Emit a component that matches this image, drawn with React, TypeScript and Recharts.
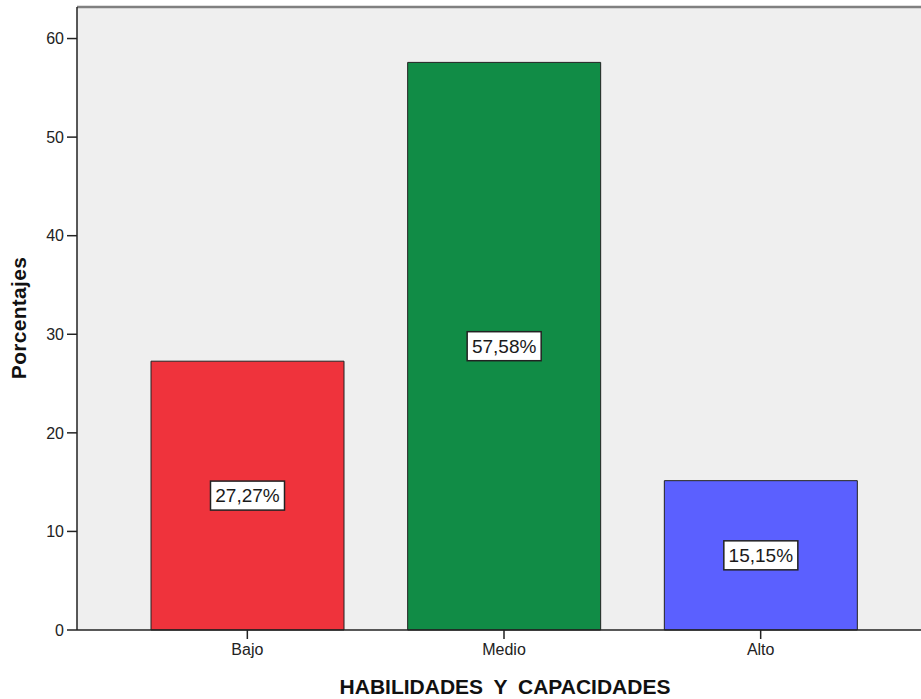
import { BarChart, Bar, XAxis, YAxis, CartesianGrid, ReferenceLine, LabelList, Cell } from 'recharts';

const categories = ['Bajo', 'Medio', 'Alto'];
const porcentajes = [27.27, 57.58, 15.15];
const etiquetas = ['27,27%', '57,58%', '15,15%'];
const colores = ['#EF333C', '#118C46', '#5B60FF'];
const yTicks = [0, 10, 20, 30, 40, 50, 60];

const data = categories.map((nivel, i) => ({
  nivel,
  valor: porcentajes[i],
  etiqueta: etiquetas[i],
}));

const FONT = '"Liberation Sans", Arial, sans-serif';

// white boxed label in the middle of each bar
function BoxLabel(props: any) {
  const { x, y, width, height, value } = props;
  const cx = x + width / 2;
  const cy = y + height / 2;
  const w = 74;
  const h = 29;
  return (
    <g>
      <rect x={cx - w / 2} y={cy - h / 2} width={w} height={h} fill="#ffffff" stroke="#222" strokeWidth={1.5} />
      <text
        x={cx}
        y={cy}
        textAnchor="middle"
        dominantBaseline="central"
        fontFamily={FONT}
        fontSize={19}
        fill="#1a1a1a"
      >
        {value}
      </text>
    </g>
  );
}

export default function App() {
  return (
    <div style={{ position: 'absolute', left: 0, top: 0, width: 921, height: 699, background: '#fff' }}>
      <BarChart
        width={921}
        height={699}
        data={data}
        margin={{ top: 7, right: 0, bottom: 29, left: 17 }}
        barSize={193}
      >
        <CartesianGrid horizontal={false} vertical={false} fill="#EFEFEF" />
        <XAxis
          dataKey="nivel"
          padding={{ left: 42, right: 32 }}
          height={40}
          tickSize={9}
          tickMargin={5}
          axisLine={{ stroke: '#222', strokeWidth: 1.5 }}
          tickLine={{ stroke: '#222', strokeWidth: 1.5 }}
          tick={{ fill: '#222', fontSize: 16, fontFamily: FONT }}
        />
        <YAxis
          domain={[0, 63.2]}
          ticks={yTicks}
          width={60}
          tickSize={10}
          tickMargin={3}
          axisLine={{ stroke: '#222', strokeWidth: 1.5 }}
          tickLine={{ stroke: '#222', strokeWidth: 1.5 }}
          tick={{ fill: '#222', fontSize: 16, fontFamily: FONT }}
        />
        <ReferenceLine y={63.2} stroke="#808080" strokeWidth={2.5} />
        <Bar dataKey="valor" stroke="#222" strokeWidth={1} isAnimationActive={false}>
          {data.map((d, i) => (
            <Cell key={d.nivel} fill={colores[i]} />
          ))}
          <LabelList dataKey="etiqueta" content={BoxLabel} />
        </Bar>
      </BarChart>
      <div
        style={{
          position: 'absolute',
          left: 19,
          top: 318,
          transform: 'translate(-50%, -50%) rotate(-90deg)',
          fontFamily: FONT,
          fontWeight: 'bold',
          fontSize: 21,
          letterSpacing: 0.3,
          color: '#111',
          whiteSpace: 'nowrap',
        }}
      >
        Porcentajes
      </div>
      <div
        style={{
          position: 'absolute',
          left: 505,
          top: 687,
          transform: 'translate(-50%, -50%)',
          fontFamily: FONT,
          fontWeight: 'bold',
          fontSize: 21,
          wordSpacing: 5,
          color: '#111',
          whiteSpace: 'nowrap',
        }}
      >
        HABILIDADES Y CAPACIDADES
      </div>
    </div>
  );
}
